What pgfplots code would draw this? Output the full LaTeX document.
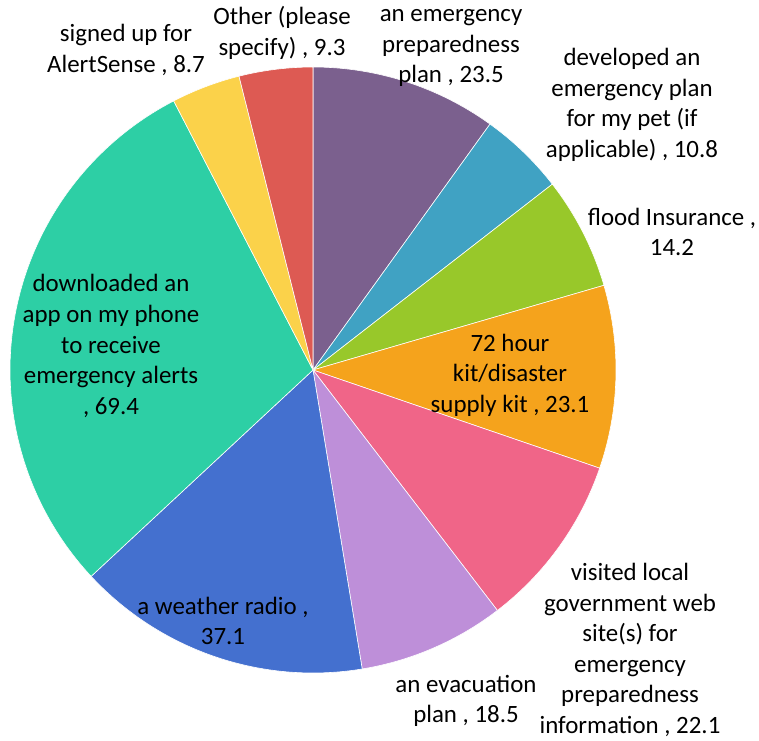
\documentclass[border=0pt]{standalone}
\usepackage{pgfplots}
\usepackage{pgfplotstable}
\pgfplotsset{compat=1.18}
\usepackage{fontspec}
\setmainfont{Carlito}

\definecolor{slc0}{HTML}{7B608E}
\definecolor{slc1}{HTML}{40A2C3}
\definecolor{slc2}{HTML}{98C82A}
\definecolor{slc3}{HTML}{F5A31C}
\definecolor{slc4}{HTML}{F06588}
\definecolor{slc5}{HTML}{BE8FD9}
\definecolor{slc6}{HTML}{4470CF}
\definecolor{slc7}{HTML}{2DCFA5}
\definecolor{slc8}{HTML}{FBD24A}
\definecolor{slc9}{HTML}{DD5A53}

\pgfplotstableread{
val
23.5
10.8
14.2
23.1
22.1
18.5
37.1
69.4
8.7
9.3
}\piedata

\begin{document}
\begin{tikzpicture}
% total and cumulative angles (start at 90 deg, clockwise)
\gdef\total{0}
\pgfplotstableforeachcolumnelement{val}\of\piedata\as\v{%
  \pgfmathsetmacro\tmp{\total+\v}\xdef\total{\tmp}}
\gdef\cum{90}
\pgfplotstableforeachcolumnelement{val}\of\piedata\as\v{%
  \pgfmathsetmacro\en{\cum-\v/\total*360}%
  \expandafter\xdef\csname s\pgfplotstablerow\endcsname{\cum}%
  \expandafter\xdef\csname e\pgfplotstablerow\endcsname{\en}%
  \xdef\cum{\en}}
\begin{axis}[
  width=379.5pt, height=370pt, scale only axis,
  xmin=0, xmax=759, ymin=0, ymax=740,
  axis lines=none, ticks=none, clip=false,
]
\coordinate (bl) at (axis cs:0,0);
\coordinate (tr) at (axis cs:759,740);
\pgfplotsinvokeforeach{0,...,9}{%
  \filldraw[fill=slc#1, draw=white, line width=0.3pt, line join=round]
    (axis cs:313,370) -- +(\csname s#1\endcsname:151.5pt)
    arc[start angle=\csname s#1\endcsname, end angle=\csname e#1\endcsname, radius=151.5pt] -- cycle;
}
\tikzset{lbl/.style={align=center, inner sep=0pt, font=\fontsize{12.45}{15.3}\selectfont, text=black}}
\node[lbl] at (axis cs:451,692) {an emergency\\preparedness\\plan , 23.5};
\node[lbl] at (axis cs:632,635) {developed an\\emergency plan\\for my pet (if\\applicable) , 10.8};
\node[lbl] at (axis cs:672,508) {flood Insurance ,\\14.2};
\node[lbl] at (axis cs:510,365) {72 hour\\kit/disaster\\supply kit , 23.1};
\node[lbl] at (axis cs:630,90) {visited local\\government web\\site(s) for\\emergency\\preparedness\\information , 22.1};
\node[lbl] at (axis cs:466,39) {an evacuation\\plan , 18.5};
\node[lbl] at (axis cs:223,119) {a weather radio ,\\37.1};
\node[lbl] at (axis cs:111,394) {downloaded an\\app on my phone\\to receive\\emergency alerts\\, 69.4};
\node[lbl] at (axis cs:126,690) {signed up for\\AlertSense , 8.7};
\node[lbl] at (axis cs:282,707) {Other (please\\specify) , 9.3};
\end{axis}
\pgfresetboundingbox
\path (bl) rectangle (tr);
\end{tikzpicture}
\end{document}
